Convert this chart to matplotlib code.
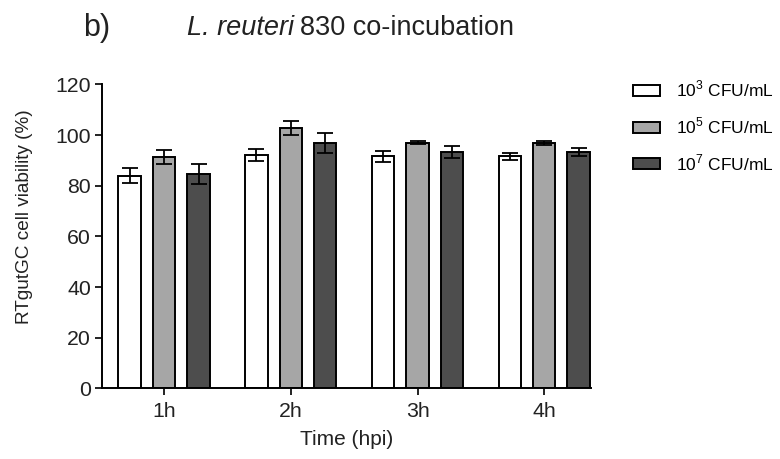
import numpy as np
import matplotlib.pyplot as plt

plt.rcParams['font.family'] = ['Liberation Sans', 'DejaVu Sans']
plt.rcParams['mathtext.fontset'] = 'custom'
plt.rcParams['mathtext.rm'] = 'Liberation Sans'

# data
times = ['1h', '2h', '3h', '4h']
series_labels = [r'10$^3$ CFU/mL', r'10$^5$ CFU/mL', r'10$^7$ CFU/mL']
viability = [
    [84.0, 92.2, 91.6, 91.6],
    [91.4, 102.9, 97.0, 97.0],
    [84.6, 97.0, 93.3, 93.3],
]
viability_err = [
    [3.0, 2.4, 2.3, 1.5],
    [2.9, 2.8, 0.6, 0.8],
    [3.8, 3.9, 2.5, 1.6],
]
colors = ['white', '#a6a6a6', '#4d4d4d']

fig = plt.figure(figsize=(7.8, 4.59), dpi=100)
ax = fig.add_axes([0.1308, 0.154, 0.627, 0.662])

x = np.arange(len(times))
spacing = 0.272
width = 0.177
for i, (vals, errs) in enumerate(zip(viability, viability_err)):
    ax.bar(x + (i - 1) * spacing, vals, width, yerr=errs, color=colors[i],
           edgecolor='black', linewidth=1.4, label=series_labels[i],
           error_kw=dict(ecolor='black', elinewidth=1.3, capsize=5.5, capthick=1.3))

ax.set_xlim(-0.49, 3.37)
ax.set_ylim(0, 120)
ax.set_yticks(range(0, 121, 20))
ax.set_xticks(x)
ax.set_xticklabels(times)
for s in ['top', 'right']:
    ax.spines[s].set_visible(False)
for s in ['left', 'bottom']:
    ax.spines[s].set_linewidth(1.4)
ax.tick_params(width=1.4, length=5, labelsize=15.3, colors='#222222')
ax.tick_params(axis='x', pad=5)
ax.tick_params(axis='y', pad=3)

ax.set_xlabel('Time (hpi)', fontsize=15, labelpad=6, color='#222222')
ax.set_ylabel('RTgutGC cell viability (%)', fontsize=13.7, color='#222222')
ax.yaxis.set_label_coords(-0.142, 0.565)

fig.text(0.106, 0.94, 'b)', fontsize=22, va='center', color='#222222')
renderer = fig.canvas.get_renderer()
t1 = fig.text(0.24, 0.94, 'L. reuteri', fontsize=19.5, style='italic',
              va='center', color='#222222')
bb = t1.get_window_extent(renderer).transformed(fig.transFigure.inverted())
fig.text(bb.x1 + 0.008, 0.94, '830 co-incubation', fontsize=19.5,
         va='center', color='#222222')

ax.legend(loc='upper left', bbox_to_anchor=(0.792, 0.862), bbox_transform=fig.transFigure,
          frameon=False, fontsize=12.5, handlelength=1.55, handleheight=0.6,
          labelspacing=0.93, handletextpad=0.9)

fig.savefig('out.png', dpi=100)
